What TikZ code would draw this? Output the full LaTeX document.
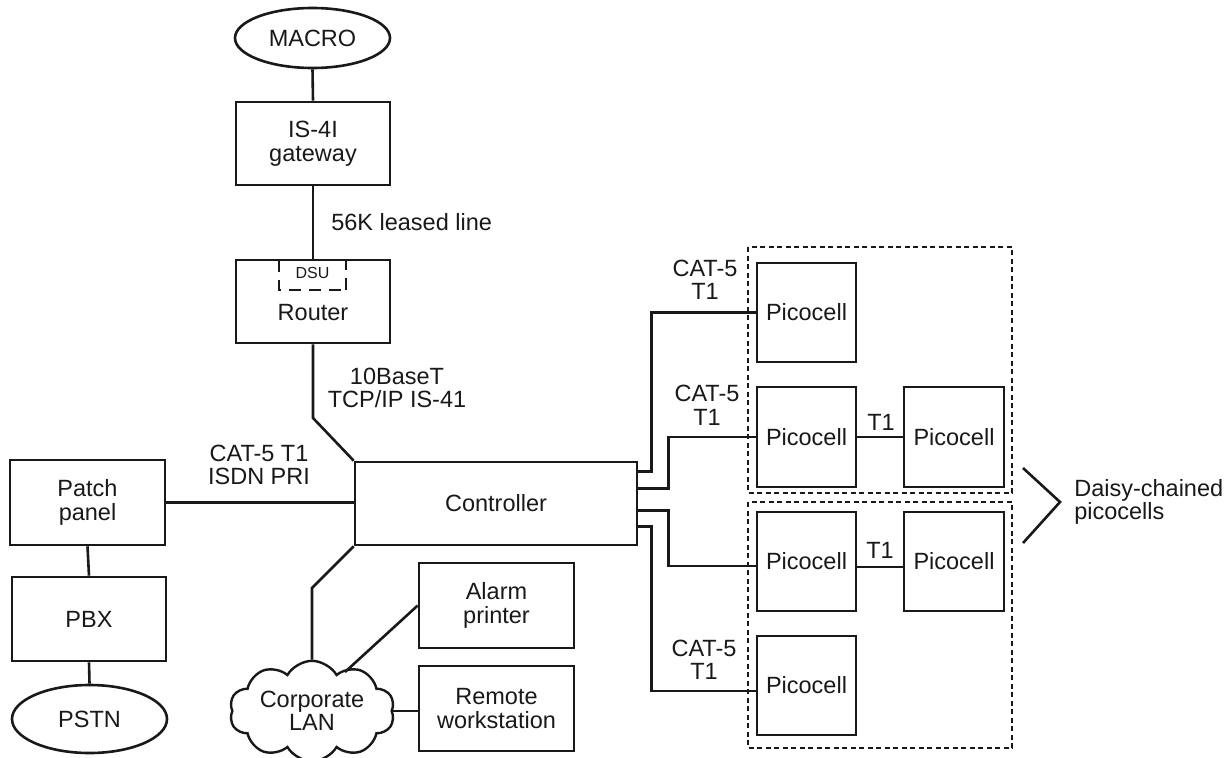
\documentclass[tikz,border=0pt]{standalone}
\usepackage{fontspec}
\setmainfont{Liberation Sans}
\usetikzlibrary{shapes.geometric,shapes.symbols,calc}
\newcommand\fsbig{\fontsize{23.5}{23.5}\selectfont}
\newcommand\fssmall{\fontsize{16}{17}\selectfont}
\begin{document}
\begin{tikzpicture}[x=1pt,y=-1pt,
  line width=2.6pt, line join=miter,
  every node/.style={font=\fsbig, inner sep=0pt, align=center, text=black!90},
  box/.style={draw=black!90, rectangle, minimum width=#1, minimum height=84pt},
  box/.default=154pt,
  pico/.style={draw=black!90, rectangle, minimum width=99pt, minimum height=99pt},
  oval/.style={draw=black!90, ellipse, minimum width=155pt},
  wire/.style={draw=black!90, line width=2.6pt},
  dotbox/.style={draw=black!90, line width=2.2pt, dash pattern=on 5pt off 3.5pt},
  lbl/.style={font=\fsbig}]
\useasboundingbox (0,0) rectangle (1230,757);

% left column and top
\node[oval, minimum height=60pt] (macro) at (312.5,38) {MACRO};
\node[box, minimum height=83pt] (gw) at (313,143.5) {IS-4I\\gateway};
\node[box, minimum height=83pt] (router) at (313,301.5) {};
\node (routertxt) at (313,313) {Router};
\node[font=\fssmall] (dsu) at (312.5,273) {DSU};
\draw[black!90, line width=2.4pt, dash pattern=on 12pt off 8pt] (279,260) -- (279,290) -- (346,290);
\draw[black!90, line width=2.4pt, dash pattern=on 12pt off 8pt] (346,290) -- (346,260);

\node[box=282pt, minimum height=83pt] (ctrl) at (496,503.5) {Controller};
\node[box=155pt, minimum height=85pt] (patch) at (87.5,502.5) {Patch\\panel};
\node[box] (pbx) at (89,619) {PBX};
\node[oval, minimum height=68pt] (pstn) at (89.5,719) {PSTN};
\node[draw=black!90, cloud, cloud puffs=10, cloud puff arc=120, aspect=1.9,
      minimum width=165pt, minimum height=88pt, line width=2.4pt] (lan) at (312,711) {Corporate\\LAN};
\node[box=155pt, minimum height=85pt] (alarm) at (496.5,605.5) {Alarm\\printer};
\node[box=155pt, minimum height=85pt] (remote) at (496.5,708.5) {Remote\\workstation};

% picocells
\node[pico] (p1) at (806.5,312.5) {Picocell};
\node[pico, minimum height=100pt] (p2) at (806.5,437) {Picocell};
\node[pico, minimum height=100pt, minimum width=100pt] (p3) at (954,437) {Picocell};
\node[pico] (p4) at (806.5,561.5) {Picocell};
\node[pico, minimum width=100pt] (p5) at (954,561.5) {Picocell};
\node[pico] (p6) at (806.5,685.5) {Picocell};

\draw[dotbox] (748,247) rectangle (1012,493);
\draw[dotbox] (748,502) rectangle (1012,748);

% connectors
\draw[wire] (macro.south) -- (gw.north);
\draw[wire] (gw.south) -- (router.north);
\node[anchor=west] (l56) at (330,222) {56K leased line};
\draw[wire] (router.south) -- (313,418) -- (ctrl.north west);
\node (l10) at (397,388) {10BaseT\\TCP/IP IS-41};
\draw[wire] (patch.east) -- (patch.east -| ctrl.west);
\node (lisdn) at (259,465) {CAT-5 T1\\ISDN PRI};
\draw[wire] (patch.south) -- (pbx.north);
\draw[wire] (pbx.south) -- (pstn.north);
\draw[wire] (ctrl.south west) -- (312,588) -- (lan.north);
\draw[wire] (alarm.west) -- ($(lan.center)+(33,-39)$);
\draw[wire] (lan.east) -- (lan.east -| remote.west);

\draw[wire] ($(ctrl.north east)+(0,11)$) -| ($(p1.west)+(-104,0)$) -- (p1.west);
\draw[wire] ($(ctrl.north east)+(0,28)$) -| ($(p2.west)+(-87,0)$) -- (p2.west);
\draw[wire] ($(ctrl.north east)+(0,50)$) -| ($(p4.west)+(-87,4.5)$) -- ($(p4.west)+(0,4.5)$);
\draw[wire] ($(ctrl.north east)+(0,66)$) -| ($(p6.west)+(-104,5.5)$) -- ($(p6.west)+(0,5.5)$);
\node (lc1) at (705,280) {CAT-5\\T1};
\node (lc2) at (707,405.5) {CAT-5\\T1};
\node (lc4) at (704,660) {CAT-5\\T1};

\draw[wire] (p2.east) -- (p3.west);
\node (lt1) at (881,422) {T1};
\draw[wire] ($(p4.east)+(0,5.5)$) -- ($(p5.west)+(0,5.5)$);
\node (lt2) at (880,550) {T1};

% daisy-chain bracket
\draw[wire] (1023,468) -- (1060,502) -- (1023,543);
\node[anchor=west, align=left] (daisy) at (1073,502) {Daisy-chained\\picocells};
\end{tikzpicture}
\end{document}
